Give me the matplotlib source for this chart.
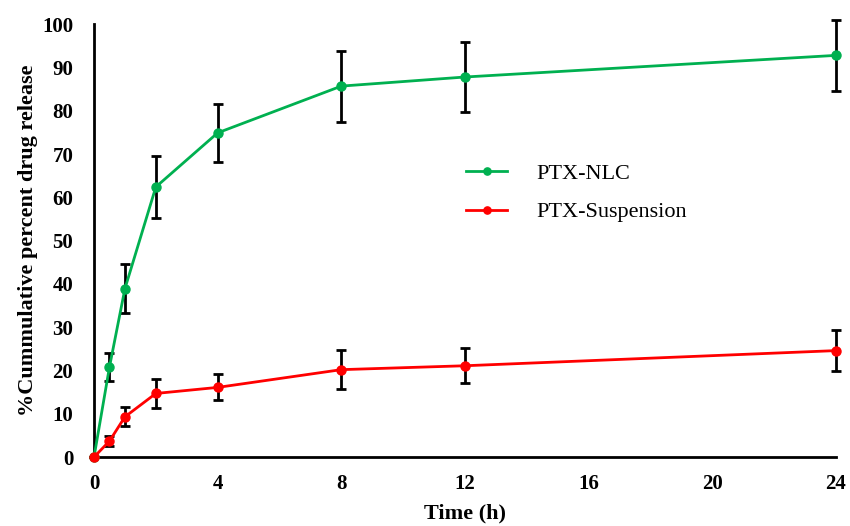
import matplotlib
matplotlib.use('Agg')
from matplotlib import pyplot as plt

# 数据
time_h = [0, 0.5, 1, 2, 4, 8, 12, 24]
nlc = [0, 20.8, 38.9, 62.4, 74.9, 85.7, 87.8, 92.8]
nlc_err = [0, 3.2, 5.6, 7.2, 6.7, 8.2, 8.0, 8.2]
susp = [0, 3.7, 9.3, 14.7, 16.1, 20.2, 21.1, 24.6]
susp_err = [0, 1.2, 2.2, 3.3, 3.0, 4.5, 4.0, 4.7]
xticks = [0, 4, 8, 12, 16, 20, 24]
yticks = [0, 10, 20, 30, 40, 50, 60, 70, 80, 90, 100]

plt.rcParams['font.family'] = ['Liberation Serif', 'DejaVu Serif']

fig = plt.figure(figsize=(8.5, 5.26), dpi=100)
ax = fig.add_axes([0.1106, 0.131, 0.8729, 0.823])

green = '#00b050'
red = '#ff0000'

for y, e in [(nlc, nlc_err), (susp, susp_err)]:
    ax.errorbar(time_h, y, yerr=e, fmt='none', ecolor='black',
                elinewidth=2, capsize=3.5, capthick=2, zorder=3, clip_on=False)
ax.plot(time_h, nlc, color=green, lw=2, marker='o', ms=6.5, label='PTX-NLC',
        zorder=4, clip_on=False)
ax.plot(time_h, susp, color=red, lw=2, marker='o', ms=6.5, label='PTX-Suspension',
        zorder=4, clip_on=False)

ax.set_xlim(0, 24)
ax.set_ylim(0, 100)
ax.set_xticks(xticks)
ax.set_yticks(yticks)
ax.tick_params(length=0, labelsize=15)
ax.tick_params(axis='x', pad=12)
ax.tick_params(axis='y', pad=15)
for lab in ax.get_xticklabels() + ax.get_yticklabels():
    lab.set_fontweight('bold')

for s in ['top', 'right']:
    ax.spines[s].set_visible(False)
for s in ['left', 'bottom']:
    ax.spines[s].set_linewidth(2)
    ax.spines[s].set_color('black')

ax.set_xlabel('Time (h)', fontsize=16, fontweight='bold', labelpad=7)
ax.set_ylabel('%Cummulative percent drug release', fontsize=16, fontweight='bold', labelpad=3)

ax.legend(loc='center left', bbox_to_anchor=(0.538, 0.633), bbox_transform=fig.transFigure,
          borderaxespad=0, frameon=False, fontsize=16, handlelength=1.85,
          handletextpad=1.3, labelspacing=0.8, markerscale=0.8)

plt.savefig('out.png', dpi=100)
